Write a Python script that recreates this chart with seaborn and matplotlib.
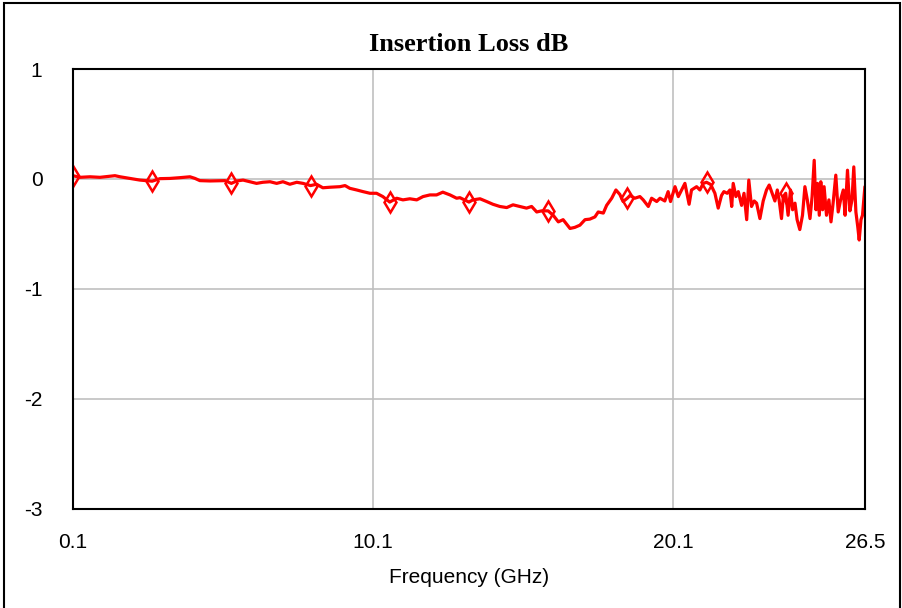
import matplotlib
matplotlib.use("Agg")
import matplotlib.pyplot as plt
import matplotlib.patches as mpatches
import numpy as np
import pandas as pd
import seaborn as sns

# sweep (GHz, dB)
freq = [0.10, 0.33, 0.67, 1.00, 1.33, 1.50, 1.67, 2.00, 2.33, 2.74,
        3.00, 3.33, 3.67, 4.00, 4.17, 4.33, 4.67, 5.17, 5.38, 5.56,
        5.77, 6.00, 6.22, 6.43, 6.67, 6.89, 7.10, 7.33, 7.56, 7.77,
        8.02, 8.22, 8.43, 8.67, 9.00, 9.17, 9.33, 9.56, 9.77, 10.00,
        10.22, 10.43, 10.66, 10.89, 11.10, 11.33, 11.56, 11.77, 12.00, 12.22,
        12.43, 12.67, 12.89, 13.00, 13.15, 13.30, 13.43, 13.67, 13.89, 14.10,
        14.33, 14.56, 14.77, 15.00, 15.22, 15.39, 15.56, 15.72, 15.94, 16.11,
        16.28, 16.44, 16.67, 16.83, 17.00, 17.17, 17.33, 17.50, 17.61, 17.78,
        17.89, 18.06, 18.20, 18.33, 18.44, 18.58, 18.67, 18.83, 19.00, 19.11,
        19.28, 19.39, 19.56, 19.67, 19.83, 19.94, 20.02, 20.17, 20.28, 20.39,
        20.50, 20.64, 20.72, 20.89, 21.00, 21.11, 21.22, 21.36, 21.50, 21.61,
        21.72, 21.80, 21.91, 22.00, 22.06, 22.11, 22.20, 22.28, 22.39, 22.47,
        22.56, 22.63, 22.72, 22.81, 22.89, 23.00, 23.11, 23.22, 23.31, 23.39,
        23.50, 23.58, 23.64, 23.72, 23.78, 23.86, 23.94, 24.02, 24.09, 24.17,
        24.24, 24.33, 24.42, 24.50, 24.58, 24.67, 24.74, 24.81, 24.87, 24.92,
        24.98, 25.03, 25.09, 25.14, 25.22, 25.30, 25.37, 25.44, 25.53, 25.61,
        25.69, 25.78, 25.84, 25.92, 26.00, 26.07, 26.13, 26.20, 26.26, 26.31,
        26.37, 26.42, 26.50]
loss = [0.030, 0.015, 0.020, 0.015, 0.025, 0.030, 0.020, 0.005, -0.010, -0.020,
        0.003, 0.005, 0.012, 0.020, 0.005, -0.015, -0.018, -0.015, -0.040, -0.018,
        -0.010, -0.025, -0.040, -0.030, -0.025, -0.040, -0.025, -0.048, -0.030, -0.040,
        -0.060, -0.048, -0.080, -0.075, -0.070, -0.060, -0.085, -0.100, -0.115, -0.130,
        -0.130, -0.160, -0.210, -0.175, -0.190, -0.180, -0.190, -0.160, -0.145, -0.145,
        -0.120, -0.145, -0.175, -0.170, -0.190, -0.210, -0.190, -0.180, -0.205, -0.230,
        -0.250, -0.260, -0.235, -0.250, -0.265, -0.250, -0.300, -0.290, -0.290, -0.330,
        -0.390, -0.370, -0.450, -0.440, -0.420, -0.370, -0.365, -0.345, -0.300, -0.310,
        -0.240, -0.175, -0.100, -0.140, -0.205, -0.175, -0.150, -0.175, -0.160, -0.190,
        -0.250, -0.175, -0.205, -0.175, -0.200, -0.115, -0.205, -0.070, -0.160, -0.100,
        -0.040, -0.230, -0.100, -0.070, -0.100, -0.040, -0.030, -0.050, -0.130, -0.265,
        -0.150, -0.115, -0.130, -0.100, -0.250, -0.040, -0.160, -0.115, -0.240, -0.130,
        -0.370, -0.010, -0.250, -0.200, -0.220, -0.360, -0.200, -0.100, -0.055, -0.115,
        -0.200, -0.100, -0.190, -0.360, -0.160, -0.130, -0.330, -0.100, -0.280, -0.220,
        -0.370, -0.460, -0.330, -0.070, -0.190, -0.360, -0.160, 0.170, -0.280, -0.040,
        -0.330, -0.025, -0.280, -0.070, -0.330, -0.190, -0.390, -0.220, 0.035, -0.300,
        -0.190, -0.100, -0.330, 0.080, -0.290, -0.190, 0.110, -0.300, -0.430, -0.555,
        -0.370, -0.330, -0.070]
marker_freq = [0.10, 2.74, 5.38, 8.02, 10.66, 13.30, 15.94, 18.58, 21.22, 23.86]
x_ticks = [0.1, 10.1, 20.1, 26.5]
x_tick_labels = ["0.1", "10.1", "20.1", "26.5"]
y_ticks = [-3, -2, -1, 0, 1]

df = pd.DataFrame({"freq": freq, "loss": loss})
mark_idx = [int(np.argmin(np.abs(df["freq"].values - f))) for f in marker_freq]

sns.set_style("white")
plt.rcParams["font.family"] = ["Liberation Sans", "DejaVu Sans"]
plt.rcParams["axes.unicode_minus"] = False
plt.rcParams["text.color"] = "black"

fig = plt.figure(figsize=(9.03, 6.08), dpi=100)
ax = fig.add_axes([0.0808, 0.163, 0.877, 0.7235])

sns.lineplot(data=df, x="freq", y="loss", ax=ax, estimator=None, sort=False,
             color="#ff0000", linewidth=2.3, marker="d", markersize=10,
             markerfacecolor="none", markeredgecolor="#ff0000",
             markeredgewidth=1.8, markevery=mark_idx)

ax.set_xlim(0.1, 26.5)
ax.set_ylim(-3, 1)
ax.set_xticks(x_ticks)
ax.set_xticklabels(x_tick_labels)
ax.set_yticks(y_ticks)
ax.set_xlabel("")
ax.set_ylabel("")
ax.grid(True, color="#c0c0c0", linewidth=1.2)
ax.set_axisbelow(True)
for s in ax.spines.values():
    s.set_color("black")
    s.set_linewidth(1.5)
ax.tick_params(axis="both", length=0, labelsize=15, colors="black")
ax.tick_params(axis="x", pad=17)
ax.tick_params(axis="y", pad=22)

fig.text(0.519, 0.926, "Insertion Loss dB", ha="center", va="center",
         fontsize=19, fontweight="bold", color="black",
         family=["Liberation Serif", "DejaVu Serif"])
fig.text(0.519, 0.05, "Frequency (GHz)", ha="center", va="center",
         fontsize=15, color="black")

# outer chart frame
fig.patches.append(mpatches.Rectangle((4 / 903, -0.01), 896 / 903, 1.01 - 3 / 608,
                                      transform=fig.transFigure, fill=False,
                                      edgecolor="black", linewidth=1.5))

fig.savefig("out.png", dpi=100)
